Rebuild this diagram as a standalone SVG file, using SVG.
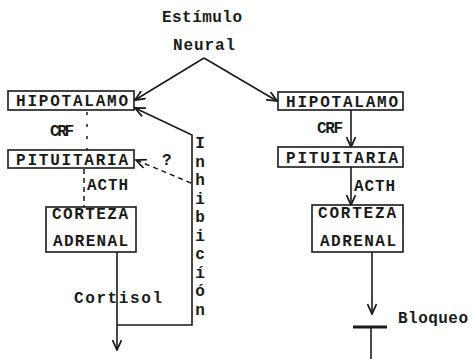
<svg xmlns="http://www.w3.org/2000/svg" width="474" height="359" viewBox="0 0 474 359">
<style>
text{font-family:"Liberation Mono","Courier New",monospace;font-size:16px;font-weight:bold;fill:#1a1a1a}
.box{fill:#fff;stroke:#1a1a1a;stroke-width:1.6}
.ln{fill:none;stroke:#1a1a1a;stroke-width:1.6}
.dash{fill:none;stroke:#1a1a1a;stroke-width:1.5;stroke-dasharray:5 4}
.dot{fill:none;stroke:#1a1a1a;stroke-width:1.5;stroke-dasharray:3 9}
</style>
<defs>
<marker id="ah" viewBox="0 0 12 10" refX="11" refY="5" markerWidth="12" markerHeight="10" markerUnits="userSpaceOnUse" orient="auto">
<path d="M1,0.5 L11,5 L1,9.5" fill="none" stroke="#1a1a1a" stroke-width="1.8"/>
</marker>
</defs>
<rect width="474" height="359" fill="#fff"/>
<g id="connectors">
<path class="ln" d="M204,58 L135,100" marker-end="url(#ah)"/>
<path class="ln" d="M204,58 L277,101" marker-end="url(#ah)"/>
<path class="dot" d="M87,112 L87,150"/>
<path class="dash" d="M84,169 L84,207"/>
<path class="ln" d="M117,252 L117,350" marker-end="url(#ah)"/>
<path class="ln" d="M117,325 L192,325 L192,135 L135,108" marker-end="url(#ah)"/>
<path class="dash" d="M191,183 L136,160" marker-end="url(#ah)"/>
<path class="ln" d="M351,110 L351,147" marker-end="url(#ah)"/>
<path class="ln" d="M351,167 L351,205" marker-end="url(#ah)"/>
<path class="ln" d="M372,252 L372,314" marker-end="url(#ah)"/>
<path class="ln" d="M353,327 L387,327" style="stroke-width:3"/>
<path class="ln" d="M371,327 L371,359"/>
</g>
<g id="estimulo">
<text x="162" y="22" textLength="80" lengthAdjust="spacing">Estímulo</text>
<text x="173" y="50" textLength="62" lengthAdjust="spacing">Neural</text>
</g>
<g id="hipotalamo-l">
<rect class="box" x="8" y="91" width="126" height="19"/>
<text x="16" y="106" textLength="112" lengthAdjust="spacing">HIPOTALAMO</text>
</g>
<g id="crf-l"><text x="50" y="136" textLength="24" lengthAdjust="spacing">CRF</text></g>
<g id="pituitaria-l">
<rect class="box" x="8" y="150" width="126" height="18"/>
<text x="16" y="164.5" textLength="112" lengthAdjust="spacing">PITUITARIA</text>
</g>
<g id="interr"><text x="162" y="165">?</text></g>
<g id="acth-l"><text x="87" y="190" textLength="41" lengthAdjust="spacing">ACTH</text></g>
<g id="corteza-l">
<rect class="box" x="46" y="207" width="90" height="45"/>
<text x="52" y="219" textLength="76" lengthAdjust="spacing">CORTEZA</text>
<text x="53" y="246" textLength="75" lengthAdjust="spacing">ADRENAL</text>
</g>
<g id="cortisol"><text x="74" y="303" textLength="88" lengthAdjust="spacing">Cortisol</text></g>
<g id="inhibicion" text-anchor="middle">
<text x="200" y="148">I</text>
<text x="200" y="166.5">n</text>
<text x="200" y="185">h</text>
<text x="200" y="203.5">i</text>
<text x="200" y="222">b</text>
<text x="200" y="240.5">i</text>
<text x="200" y="259">c</text>
<text x="200" y="277.5">í</text>
<text x="200" y="296">ó</text>
<text x="200" y="314.5">n</text>
</g>
<g id="hipotalamo-r">
<rect class="box" x="278" y="92" width="125" height="18"/>
<text x="286" y="106.5" textLength="112" lengthAdjust="spacing">HIPOTALAMO</text>
</g>
<g id="crf-r"><text x="317" y="133" textLength="26" lengthAdjust="spacing">CRF</text></g>
<g id="pituitaria-r">
<rect class="box" x="278" y="147" width="125" height="20"/>
<text x="286" y="163" textLength="112" lengthAdjust="spacing">PITUITARIA</text>
</g>
<g id="acth-r"><text x="354" y="191" textLength="41" lengthAdjust="spacing">ACTH</text></g>
<g id="corteza-r">
<rect class="box" x="312" y="205" width="91" height="47"/>
<text x="318" y="218" textLength="78" lengthAdjust="spacing">CORTEZA</text>
<text x="320" y="246" textLength="76" lengthAdjust="spacing">ADRENAL</text>
</g>
<g id="bloqueo"><text x="398" y="323" textLength="70" lengthAdjust="spacing">Bloqueo</text></g>
</svg>
